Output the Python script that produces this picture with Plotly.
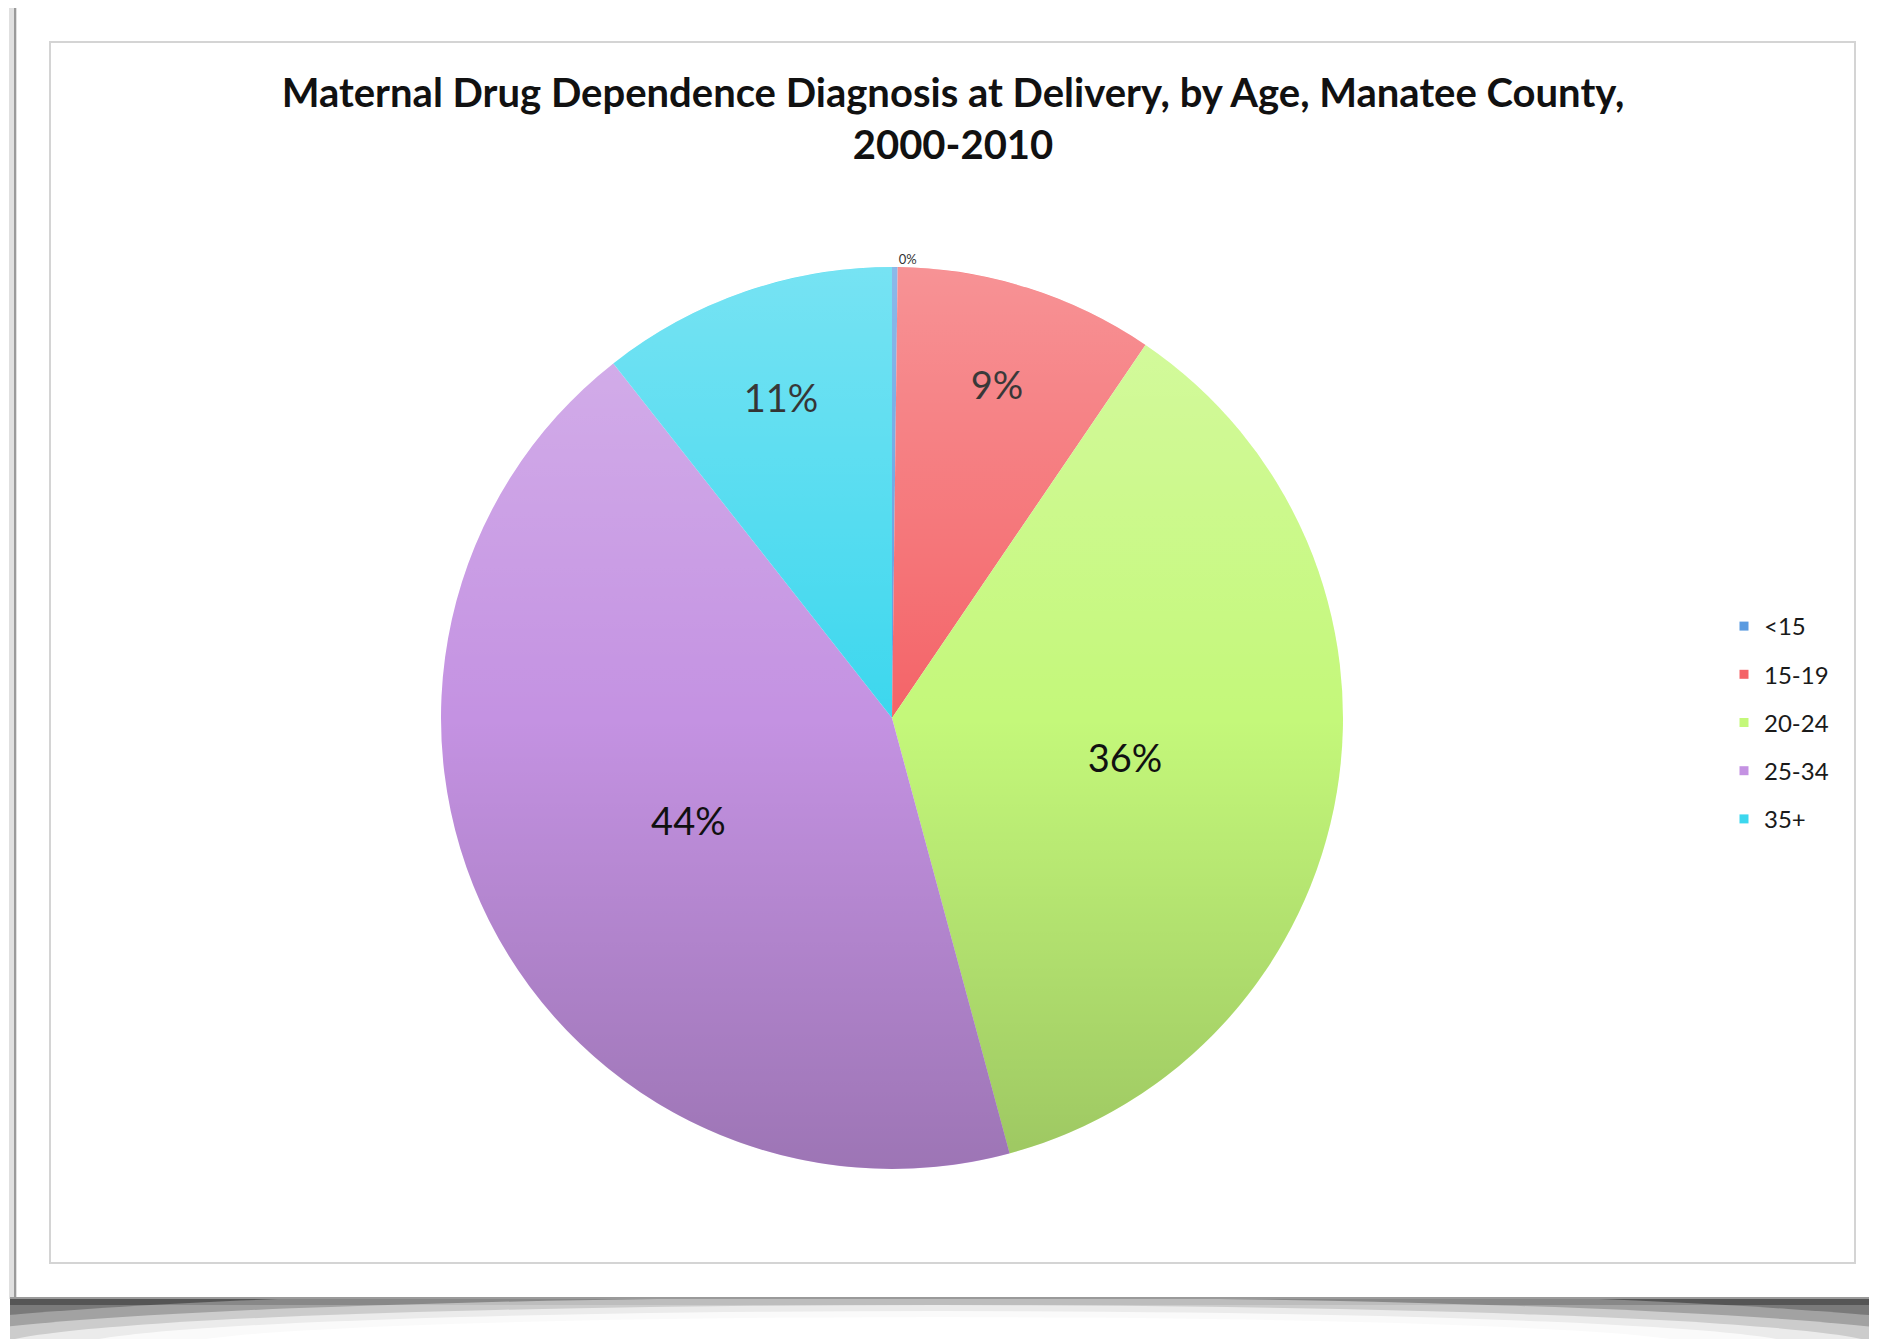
import base64
import plotly.graph_objects as go

# ---- data ----
age_groups = ["<15", "15-19", "20-24", "25-34", "35+"]
shares = [0.2, 9.3, 36.3, 43.6, 10.6]
slice_colors = ["#5b9be0", "#f46468", "#c4f87a", "#c492e2", "#3cd7ee"]
title_text = "Maternal Drug Dependence Diagnosis at Delivery, by Age, Manatee County,<br>2000-2010"

W, H = 1877, 1339
OFF = 8  # page body margin
def px(x):
    return (x - OFF) / W
def py(y):
    return 1 - (y - OFF) / H

CX, CY, R = 892, 718, 451

fig = go.Figure()

fig.add_trace(go.Pie(
    labels=age_groups,
    values=shares,
    sort=False,
    direction="clockwise",
    rotation=0,
    marker=dict(colors=slice_colors, line=dict(width=0)),
    texttemplate="%{percent:.0%}",
    textposition=["outside", "inside", "inside", "inside", "inside"],
    insidetextorientation="horizontal",
    textfont=dict(family="Lato", size=[13, 38, 38, 38, 38],
                  color=["#333333", "#000000", "#111111", "#111111", "#000000"]),
    outsidetextfont=dict(family="Lato", size=13, color="#333333"),
    showlegend=False,
    domain=dict(x=[px(CX - R), px(CX + R)], y=[py(CY + R), py(CY - R)]),
    hoverinfo="label+percent",
))

# legend entries built from the categories
for name, col in zip(age_groups, slice_colors):
    fig.add_trace(go.Scatter(
        x=[None], y=[None], mode="markers", name=name, legendgroup=name,
        marker=dict(symbol="square", size=9, color=col),
    ))

# soft vertical shading over the pie (light top, darker bottom)
svg = (
    '<svg xmlns="http://www.w3.org/2000/svg" width="100" height="100" viewBox="0 0 100 100">'
    '<defs><linearGradient id="g" x1="0" y1="0" x2="0" y2="1">'
    '<stop offset="0" stop-color="#ffffff" stop-opacity="0.3"/>'
    '<stop offset="0.5" stop-color="#ffffff" stop-opacity="0"/>'
    '<stop offset="0.5" stop-color="#000000" stop-opacity="0"/>'
    '<stop offset="1" stop-color="#000000" stop-opacity="0.2"/>'
    '</linearGradient></defs>'
    '<circle cx="50" cy="50" r="50" fill="url(#g)"/></svg>'
)
svg_uri = "data:image/svg+xml;base64," + base64.b64encode(svg.encode()).decode()

shapes = [
    dict(type="rect", xref="paper", yref="paper", x0=px(50), x1=px(1855), y0=py(1263), y1=py(42),
         line=dict(color="#d4d4d4", width=2), fillcolor="rgba(0,0,0,0)", layer="below"),
    dict(type="line", xref="paper", yref="paper", x0=px(13), x1=px(13), y0=py(1299), y1=py(8),
         line=dict(color="#e0e0e0", width=8), layer="below"),
    dict(type="line", xref="paper", yref="paper", x0=px(15), x1=px(15), y0=py(1299), y1=py(8),
         line=dict(color="#9a9a9a", width=2), layer="below"),
    dict(type="rect", xref="paper", yref="paper", x0=px(10), x1=1, y0=0, y1=py(1299),
         line=dict(width=0), fillcolor="#7a7a7a", layer="below"),
    dict(type="rect", xref="paper", yref="paper", x0=px(10), x1=1, y0=py(1305), y1=py(1299),
         line=dict(width=0), fillcolor="#555555", layer="below"),
]
for rx, ry, op in [(1100, 60, 0.3), (1020, 50, 0.45), (940, 42, 0.6), (860, 36, 0.75), (760, 30, 0.9)]:
    shapes.append(dict(type="circle", xref="paper", yref="paper",
                       x0=px(938 - rx), x1=px(938 + rx), y0=py(1347 + ry), y1=py(1347 - ry),
                       line=dict(width=0), fillcolor=f"rgba(255,255,255,{op})", layer="below"))
shapes.append(dict(type="rect", xref="paper", yref="paper", x0=px(10), x1=1, y0=py(1299), y1=py(1297),
                   line=dict(width=0), fillcolor="#9a9a9a", layer="below"))

fig.update_layout(
    width=W, height=H,
    margin=dict(l=0, r=0, t=0, b=0),
    paper_bgcolor="white",
    plot_bgcolor="rgba(0,0,0,0)",
    title=dict(text=title_text, x=px(953), xanchor="center", y=py(107), yanchor="top",
               font=dict(family="Lato", size=40, color="#111111", weight="bold")),
    xaxis=dict(visible=False), yaxis=dict(visible=False),
    legend=dict(x=px(1724), xanchor="left", y=py(604), yanchor="top",
                traceorder="grouped", tracegroupgap=14,
                font=dict(family="Lato", size=24, color="#1a1a1a"),
                bgcolor="rgba(0,0,0,0)", itemwidth=30),
    images=[dict(source=svg_uri, xref="paper", yref="paper",
                 x=px(CX - R), y=py(CY - R), sizex=2 * R / W, sizey=2 * R / H,
                 xanchor="left", yanchor="top", sizing="stretch", layer="above")],
    shapes=shapes,
    showlegend=True,
)

fig.write_html("out.html")
